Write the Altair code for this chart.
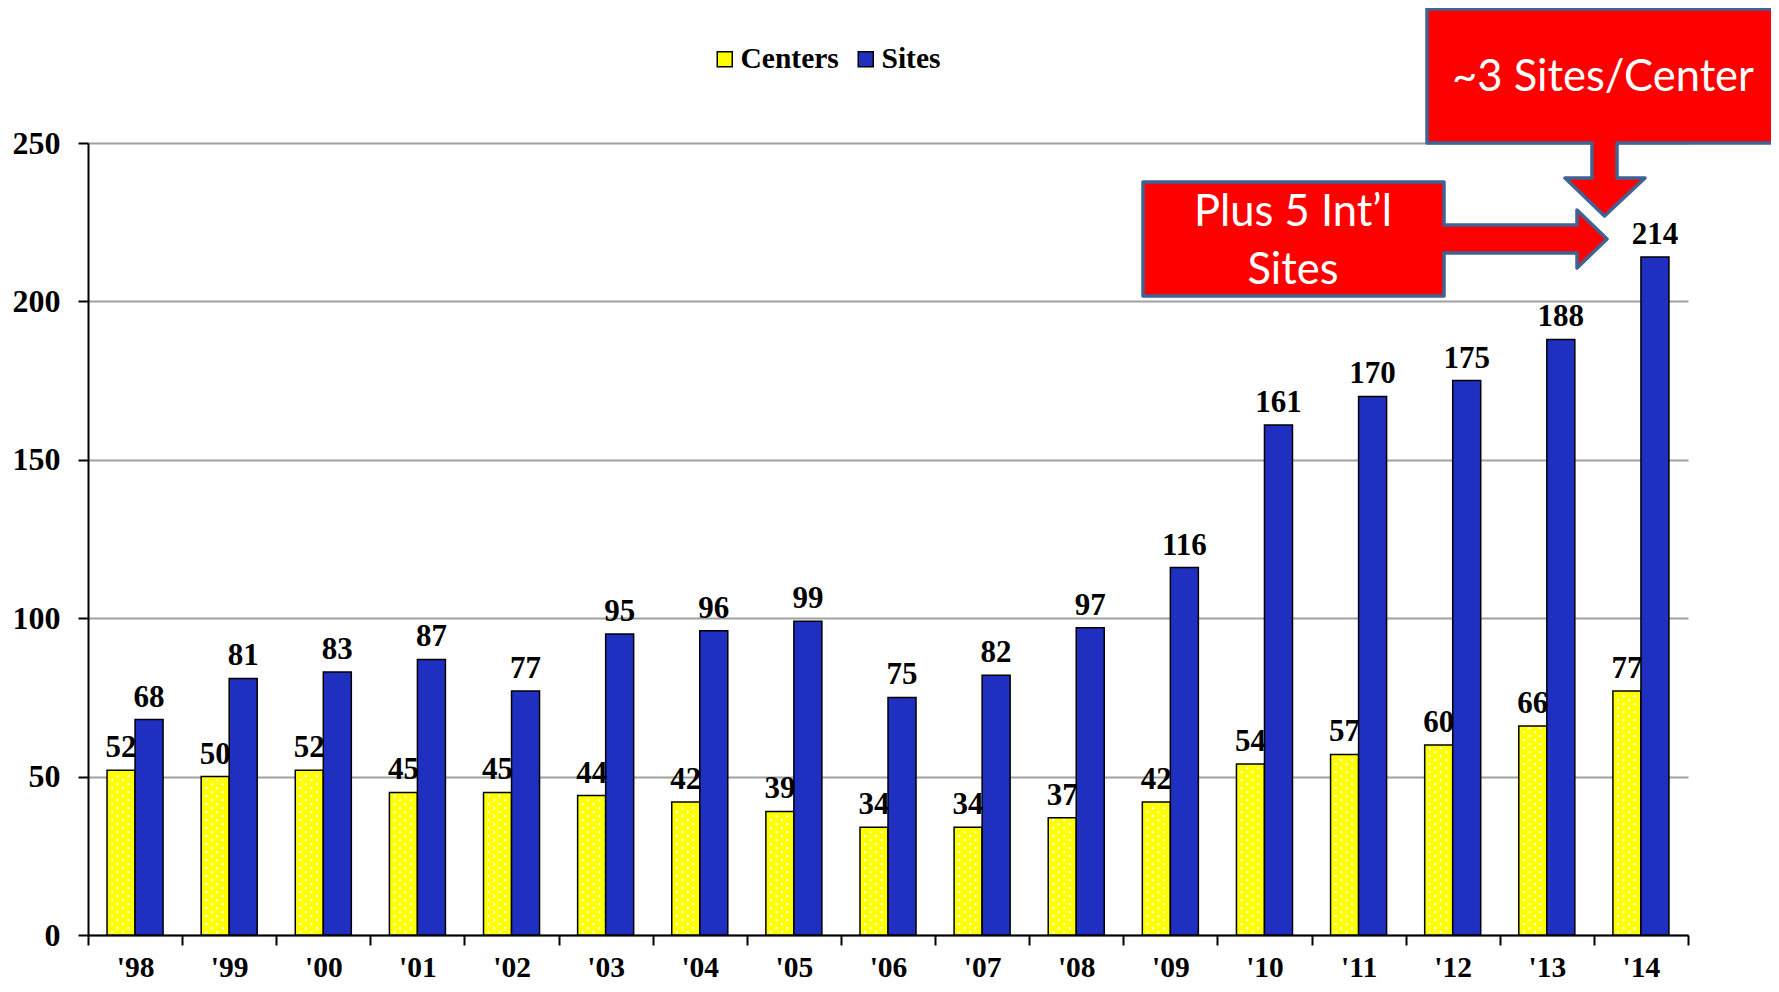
import altair as alt
import pandas as pd

years = ["'98", "'99", "'00", "'01", "'02", "'03", "'04", "'05", "'06",
         "'07", "'08", "'09", "'10", "'11", "'12", "'13", "'14"]
centers = [52, 50, 52, 45, 45, 44, 42, 39, 34, 34, 37, 42, 54, 57, 60, 66, 77]
sites = [68, 81, 83, 87, 77, 95, 96, 99, 75, 82, 97, 116, 161, 170, 175, 188, 214]
series = ["Centers", "Sites"]
series_colors = ["#FFFF00", "#1F2FBF"]
y_ticks = [0, 50, 100, 150, 200, 250]

rows = []
for yr, c, s in zip(years, centers, sites):
    rows.append({"year": yr, "series": "Centers", "value": c})
    rows.append({"year": yr, "series": "Sites", "value": s})
df = pd.DataFrame(rows)

# white dot texture rows inside the yellow (Centers) bars, derived from the values
ROW_STEP = 1.2626  # ~4px in data units
tex = []
for yr, c in zip(years, centers):
    k = 0
    while 0.9 + k * ROW_STEP < c - 0.7:
        tex.append({"year": yr, "series": "Centers", "value": 0.9 + k * ROW_STEP,
                    "parity": k % 2})
        k += 1
tex_df = pd.DataFrame(tex)

SERIF = "Liberation Serif"
SANS = "Lato"
W, H = 1600, 792

x_enc = alt.X("year:N", sort=years, title=None,
              scale=alt.Scale(paddingInner=0, paddingOuter=0),
              axis=alt.Axis(labelFont=SERIF, labelFontWeight="bold", labelFontSize=29.5,
                            labelColor="black", labelAngle=0, labelPadding=8,
                            tickBand="extent", tickSize=10, tickWidth=2, tickColor="black",
                            domainColor="black", domainWidth=2, grid=False))
y_enc = alt.Y("value:Q", title=None,
              scale=alt.Scale(domain=[0, 250], nice=False),
              axis=alt.Axis(values=y_ticks, labelFont=SERIF, labelFontWeight="bold",
                            labelFontSize=32, labelColor="black", labelPadding=18,
                            tickSize=10, tickWidth=2, tickColor="black",
                            domainColor="black", domainWidth=2,
                            grid=True, gridColor="#A0A0A0", gridWidth=2))
xoff = alt.XOffset("series:N", sort=series,
                   scale=alt.Scale(paddingInner=0, paddingOuter=0.68))

base = alt.Chart(df)

bars = base.mark_bar(stroke="black", strokeWidth=1.5).encode(
    x=x_enc, y=y_enc, xOffset=xoff,
    color=alt.Color("series:N", sort=series,
                    scale=alt.Scale(domain=series, range=series_colors),
                    legend=alt.Legend(title=None, orient="none", legendX=622, legendY=-99,
                                      direction="horizontal", symbolType="square",
                                      symbolSize=225, symbolStrokeColor="black",
                                      symbolStrokeWidth=1.5, labelFont=SERIF,
                                      labelFontWeight="bold", labelFontSize=29.5,
                                      labelColor="black", labelOffset=1,
                                      columnPadding=12, labelLimit=300)),
)

DOT_ROW_A = "M-10,-1h2.2v2.2h-2.2z M1,-1h2.2v2.2h-2.2z"
DOT_ROW_B = "M-4.5,-1h2.2v2.2h-2.2z M6.5,-1h2.2v2.2h-2.2z"


def dots(parity, path):
    return alt.Chart(tex_df).transform_filter(
        alt.datum.parity == parity
    ).mark_point(shape=path, size=4, filled=True, fill="white", strokeWidth=0,
                 opacity=1).encode(
        x=alt.X("year:N", sort=years, title=None),
        y=alt.Y("value:Q", title=None),
        xOffset=alt.XOffset("series:N", sort=series),
    )


labels = base.mark_text(font=SERIF, fontWeight="bold", fontSize=31, color="black",
                        baseline="alphabetic", dy=-13).encode(
    x=alt.X("year:N", sort=years), y="value:Q", xOffset=xoff, text="value:Q")

ann_df = pd.DataFrame({"k": [0]})
callout1_path = ("M1339,-134 L1700,-134 L1700,0 L1529,0 L1529,35 L1557,35 "
                 "L1516.5,73 L1477,35 L1504,35 L1504,0 L1339,0 Z")
callout2_path = ("M1055,39 L1356,39 L1356,82 L1489,82 L1489,67 L1519,96 "
                 "L1489,125 L1489,110 L1356,110 L1356,153 L1055,153 Z")


def callout(path):
    return alt.Chart(ann_df).mark_point(
        shape=path, size=4, filled=True, fill="#FF0000", stroke="#3F6393",
        strokeWidth=3.5, strokeJoin="round", opacity=1,
    ).encode(x=alt.value(0), y=alt.value(0))


def ann_text(txt, x, y):
    return alt.Chart(ann_df).mark_text(
        text=txt, font=SANS, fontSize=43.5, color="white", align="center",
        baseline="alphabetic",
    ).encode(x=alt.value(x), y=alt.value(y))


chart = alt.layer(
    bars,
    dots(0, DOT_ROW_A), dots(1, DOT_ROW_B),
    labels,
    callout(callout1_path), callout(callout2_path),
    ann_text("~3 Sites/Center", 1515, -52),
    ann_text("Plus 5 Int\u2019l", 1205, 83),
    ann_text("Sites", 1205, 141),
).properties(
    width=W, height=H,
    autosize=alt.AutoSizeParams(type="none"),
    padding={"left": 80, "top": 135, "right": 83, "bottom": 49},
    background="white",
).configure_view(stroke=None)

chart.save("out.html", embed_options={"renderer": "svg", "actions": False})
